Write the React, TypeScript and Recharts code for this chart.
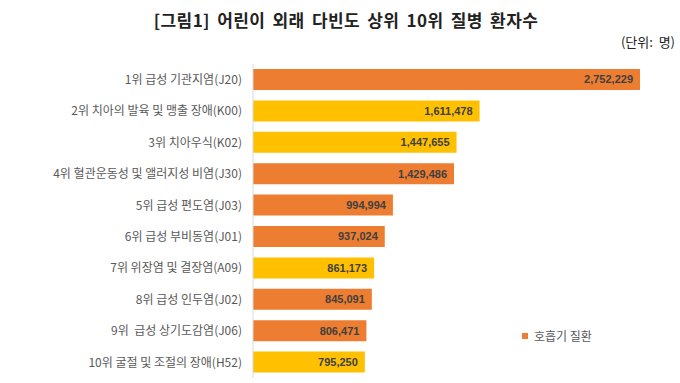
import { Bar, BarChart, Cell, LabelList, XAxis, YAxis } from "recharts";

const diseases = [
  "1위 급성 기관지염(J20)",
  "2위 치아의 발육 및 맹출 장애(K00)",
  "3위 치아우식(K02)",
  "4위 혈관운동성 및 앨러지성 비염(J30)",
  "5위 급성 편도염(J03)",
  "6위 급성 부비동염(J01)",
  "7위 위장염 및 결장염(A09)",
  "8위 급성 인두염(J02)",
  "9위  급성 상기도감염(J06)",
  "10위 굴절 및 조절의 장애(H52)",
];
const patients = [2752229, 1611478, 1447655, 1429486, 994994, 937024, 861173, 845091, 806471, 795250];
const respiratory = [true, false, false, true, true, true, false, true, true, false];

const ORANGE = "#ED7D31";
const YELLOW = "#FFC000";
const KR = "'Noto Sans CJK KR', 'Noto Sans', sans-serif";

const data = diseases.map((name, i) => ({ name, value: patients[i], resp: respiratory[i] }));

// single-line category label (default tick wraps long names)
function CategoryTick({ x, y, payload }: any) {
  return (
    <text x={x} y={y} dy="0.36em" textAnchor="end" fill="#595959" fontSize={12} fontFamily={KR} style={{ whiteSpace: "pre" }}>
      {payload.value}
    </text>
  );
}

export default function App() {
  return (
    <div style={{ position: "absolute", left: 0, top: 0, width: 680, height: 383, background: "#fff", fontFamily: KR }}>
      <div
        style={{
          position: "absolute",
          left: 0,
          width: 680,
          top: 8,
          textAlign: "center",
          fontSize: 17,
          fontWeight: 700,
          letterSpacing: 0.4,
          wordSpacing: 3,
          color: "#222",
          lineHeight: "24px",
          paddingLeft: 12,
          boxSizing: "border-box",
        }}
      >
        [그림1] 어린이 외래 다빈도 상위 10위 질병 환자수
      </div>
      <div style={{ position: "absolute", right: 5, top: 33, fontSize: 13, color: "#222", lineHeight: "18px", whiteSpace: "pre" }}>
        (단위:  명)
      </div>
      <BarChart
        width={680}
        height={383}
        layout="vertical"
        data={data}
        margin={{ top: 64, right: 40, bottom: 5, left: 0 }}
      >
        <XAxis type="number" hide domain={[0, "dataMax"]} />
        <YAxis
          type="category"
          dataKey="name"
          width={253}
          tickLine={false}
          tickSize={0}
          tickMargin={11}
          axisLine={{ stroke: "#D9D9D9" }}
          tick={<CategoryTick />}
          interval={0}
        />
        <Bar dataKey="value" barSize={21} isAnimationActive={false}>
          {data.map((d) => (
            <Cell key={d.name} fill={d.resp ? ORANGE : YELLOW} />
          ))}
          <LabelList
            dataKey="value"
            position="insideRight"
            offset={7}
            formatter={(v: any) => Number(v).toLocaleString("en-US")}
            style={{ fill: "#404040", fontSize: 11, fontWeight: 700, fontFamily: "'Liberation Sans', Arial, sans-serif" }}
          />
        </Bar>
      </BarChart>
      <div style={{ position: "absolute", left: 522, top: 327, display: "flex", alignItems: "center", fontSize: 12, color: "#595959" }}>
        <span style={{ width: 6, height: 6, background: ORANGE, display: "inline-block", marginRight: 6 }} />
        호흡기 질환
      </div>
    </div>
  );
}
